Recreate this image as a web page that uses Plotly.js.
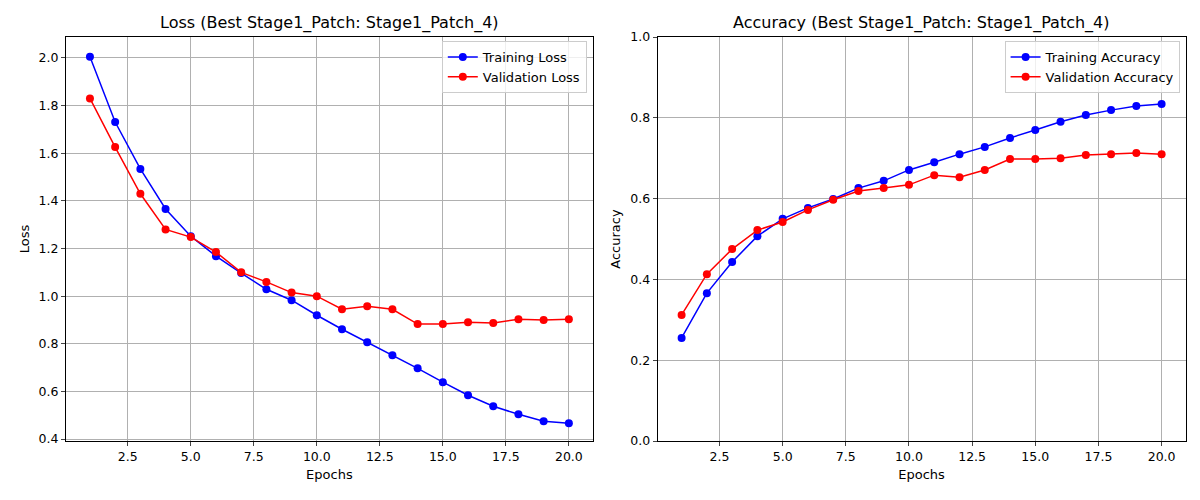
<!DOCTYPE html>
<html><head><script src="https://cdn.plot.ly/plotly-3.0.1.min.js"></script></head>
<body style="margin:0"><div id="c" style="width:1200px;height:500px"></div>
<script>
const epochs=[1,2,3,4,5,6,7,8,9,10,11,12,13,14,15,16,17,18,19,20];
const trainLoss=[2.005,1.731,1.534,1.366,1.252,1.168,1.097,1.029,0.983,0.92,0.861,0.807,0.752,0.697,0.639,0.584,0.538,0.504,0.475,0.466];
const valLoss=[1.83,1.626,1.43,1.28,1.248,1.185,1.10,1.06,1.015,1.0,0.945,0.958,0.945,0.883,0.883,0.89,0.887,0.903,0.90,0.903];
const trainAcc=[0.255,0.366,0.443,0.507,0.55,0.577,0.599,0.626,0.644,0.671,0.69,0.71,0.728,0.75,0.77,0.79,0.807,0.819,0.829,0.834];
const valAcc=[0.312,0.413,0.475,0.522,0.542,0.572,0.597,0.619,0.626,0.634,0.658,0.653,0.671,0.698,0.698,0.70,0.708,0.71,0.713,0.71];
function tr(y,name,color,xa,ya,lg){return {x:epochs,y:y,name:name,mode:'lines+markers',line:{color:color,width:1.5},marker:{color:color,size:8},xaxis:xa,yaxis:ya,legend:lg};}
const data=[tr(trainLoss,'Training Loss','blue','x','y','legend'),tr(valLoss,'Validation Loss','red','x','y','legend'),
tr(trainAcc,'Training Accuracy','blue','x2','y2','legend2'),tr(valAcc,'Validation Accuracy','red','x2','y2','legend2')];
const ax={showline:true,mirror:true,linecolor:'black',linewidth:1,ticks:'outside',ticklen:4,showgrid:true,gridcolor:'#b0b0b0',zeroline:false,tickfont:{size:12.5}};
const xt={tickvals:[2.5,5,7.5,10,12.5,15,17.5,20],ticktext:['2.5','5.0','7.5','10.0','12.5','15.0','17.5','20.0']};
const leg={bordercolor:'#cccccc',borderwidth:1,bgcolor:'rgba(255,255,255,0.8)',xanchor:'right',yanchor:'top',font:{size:13}};
const layout={font:{family:'DejaVu Sans',color:'black'},showlegend:true,margin:{l:0,r:0,t:0,b:0},plot_bgcolor:'white',paper_bgcolor:'white',
xaxis:Object.assign({},ax,xt,{domain:[0.055,0.494],range:[0.05,20.95],anchor:'y',title:{text:'Epochs',font:{size:13},standoff:6}}),
yaxis:Object.assign({},ax,{domain:[0.118,0.926],range:[0.392,2.088],dtick:0.2,tick0:0,tickformat:'.1f',anchor:'x',title:{text:'Loss',font:{size:13},standoff:6}}),
xaxis2:Object.assign({},ax,xt,{domain:[0.548,0.988],range:[0.05,20.95],anchor:'y2',title:{text:'Epochs',font:{size:13},standoff:6}}),
yaxis2:Object.assign({},ax,{domain:[0.118,0.926],range:[0,1],dtick:0.2,tickformat:'.1f',anchor:'x2',title:{text:'Accuracy',font:{size:13},standoff:6}}),
legend:Object.assign({},leg,{x:0.489,y:0.918}),
legend2:Object.assign({},leg,{x:0.983,y:0.918}),
annotations:[{text:'Loss (Best Stage1_Patch: Stage1_Patch_4)',x:0.2745,y:0.93,xref:'paper',yref:'paper',xanchor:'center',yanchor:'bottom',showarrow:false,font:{size:16}},
{text:'Accuracy (Best Stage1_Patch: Stage1_Patch_4)',x:0.768,y:0.93,xref:'paper',yref:'paper',xanchor:'center',yanchor:'bottom',showarrow:false,font:{size:16}}]};
Plotly.newPlot('c',data,layout,{displayModeBar:false});
</script></body></html>
